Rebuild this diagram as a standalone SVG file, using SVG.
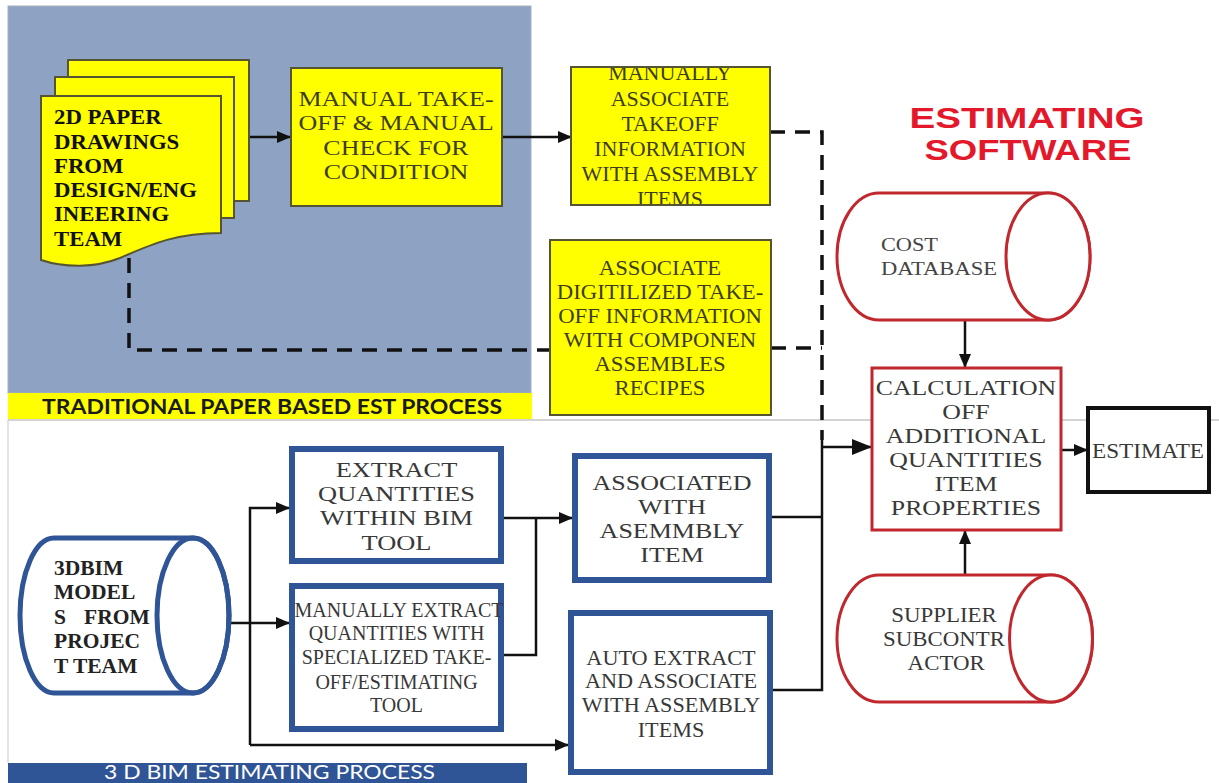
<svg xmlns="http://www.w3.org/2000/svg" width="1219" height="783" viewBox="0 0 1219 783">
<style>
.serif{font-family:"Liberation Serif","Times New Roman",serif}
.ylw{fill:#ffff00;stroke:#555533;stroke-width:2}
.ytxt{font-family:"Liberation Serif","Times New Roman",serif;fill:#3d3d1f;text-anchor:middle}
.bbox{fill:#ffffff;stroke:#2f5597;stroke-width:6}
.btxt{font-family:"Liberation Serif","Times New Roman",serif;fill:#383838;text-anchor:middle}
.con{fill:none;stroke:#111;stroke-width:2.5}
.dash{fill:none;stroke:#111;stroke-width:3.5;stroke-dasharray:15 10}
.red{fill:#fff;stroke:#c0282e;stroke-width:3}
</style>
<defs>
<marker id="ah" markerUnits="userSpaceOnUse" markerWidth="14" markerHeight="12" refX="13" refY="6" orient="auto">
<path d="M0,0 L14,6 L0,12 z" fill="#111"/>
</marker>
<marker id="ahb" markerUnits="userSpaceOnUse" markerWidth="20" markerHeight="16" refX="19" refY="8" orient="auto">
<path d="M0,0 L20,8 L0,16 z" fill="#111"/>
</marker>
<clipPath id="clipMA"><rect x="572" y="68" width="197" height="136"/></clipPath>
</defs>

<!-- panels -->
<g id="traditional-panel">
<rect x="8" y="6" width="523" height="387" fill="#8ea2c3" stroke="#a7b0bf" stroke-width="1"/>
<rect x="8" y="393" width="524" height="26" fill="#ffff00"/>
<text x="272" y="413.5" font-family="Lato,'Open Sans',sans-serif" font-weight="bold" font-size="21" fill="#1a1a1a" text-anchor="middle" textLength="460" lengthAdjust="spacingAndGlyphs">TRADITIONAL PAPER BASED EST PROCESS</text>
</g>
<g id="bim-panel">
<line x1="8" y1="420" x2="1219" y2="420" stroke="#a8a8a8" stroke-width="1.2"/>
<line x1="8" y1="420" x2="8" y2="763" stroke="#d0d0d0" stroke-width="1.2"/>
<rect x="8" y="763" width="519" height="20" fill="#2f5597"/>
<text x="104" y="779" font-family="Lato,'Open Sans',sans-serif" font-size="19" fill="#ffffff" textLength="331" lengthAdjust="spacingAndGlyphs">3 D BIM ESTIMATING PROCESS</text>
</g>

<g id="title">
<text x="1027" y="128" font-family="'Liberation Sans',Arial,sans-serif" font-weight="bold" font-size="29" fill="#e3182b" text-anchor="middle" textLength="235" lengthAdjust="spacingAndGlyphs">ESTIMATING</text>
<text x="1028" y="160" font-family="'Liberation Sans',Arial,sans-serif" font-weight="bold" font-size="29" fill="#e3182b" text-anchor="middle" textLength="207" lengthAdjust="spacingAndGlyphs">SOFTWARE</text>
</g>

<!-- connectors -->
<g id="connectors">
<path class="dash" d="M770,132 H822 V440"/>
<path class="dash" d="M771,348 H822"/>
<path class="dash" d="M129,258 V350 H549"/>
<path class="con" d="M249,137 H290" marker-end="url(#ah)"/>
<path class="con" d="M502,137 H571" marker-end="url(#ah)"/>
<path class="con" d="M965,320 V367" marker-end="url(#ah)"/>
<path class="con" d="M965,575 V531" marker-end="url(#ah)"/>
<path class="con" d="M1061,450 H1087" marker-end="url(#ah)"/>
<path class="con" d="M229,623 H289" marker-end="url(#ah)"/>
<path class="con" d="M250,745 V508 H289" marker-end="url(#ah)"/>
<path class="con" d="M250,745 H568" marker-end="url(#ah)"/>
<path class="con" d="M504,518 H572" marker-end="url(#ah)"/>
<path class="con" d="M504,655 H536 V518"/>
<path class="con" d="M772,517 H822"/>
<path class="con" d="M773,690 H822 V440"/>
<path class="con" d="M822,447 H871" stroke-width="3.5" marker-end="url(#ahb)"/>
</g>

<!-- nodes -->
<g id="paper-drawings">
<rect class="ylw" x="68" y="60" width="181" height="141" stroke="#5a5a22"/>
<rect class="ylw" x="55" y="77" width="179" height="141" stroke="#5a5a22"/>
<path class="ylw" stroke="#5a5a22" d="M41,96 H221 V233 C175,233 150,245 120,258 C95,268 65,268 41,260 Z"/>
<g class="serif" font-weight="bold" font-size="21.5" fill="#111" transform="translate(54,0) scale(1.06,1)">
<text x="0" y="124.5">2D PAPER</text>
<text x="0" y="149">DRAWINGS</text>
<text x="0" y="173">FROM</text>
<text x="0" y="197.5">DESIGN/ENG</text>
<text x="0" y="221.5">INEERING</text>
<text x="0" y="246">TEAM</text>
</g>
</g>

<g id="manual-takeoff">
<rect class="ylw" x="291" y="68" width="211" height="138"/>
<g class="ytxt" font-size="21.5" transform="translate(396,0) scale(1.21,1)">
<text x="0" y="106.5">MANUAL TAKE-</text>
<text x="0" y="130.5">OFF &amp; MANUAL</text>
<text x="0" y="155.5">CHECK FOR</text>
<text x="0" y="179.5">CONDITION</text>
</g>
</g>

<g id="manually-associate">
<rect class="ylw" x="571" y="67" width="199" height="138"/>
<g class="ytxt" font-size="22" clip-path="url(#clipMA)">
<text x="670" y="80">MANUALLY</text>
<text x="670" y="105.5">ASSOCIATE</text>
<text x="670" y="131">TAKEOFF</text>
<text x="670" y="156">INFORMATION</text>
<text x="670" y="181">WITH ASSEMBLY</text>
<text x="670" y="206">ITEMS</text>
</g>
</g>

<g id="associate-digitilized">
<rect class="ylw" x="550" y="240" width="221" height="175"/>
<g class="ytxt" font-size="21.5" transform="translate(660,0) scale(1.056,1)">
<text x="0" y="275">ASSOCIATE</text>
<text x="0" y="299">DIGITILIZED TAKE-</text>
<text x="0" y="323">OFF INFORMATION</text>
<text x="0" y="347">WITH COMPONEN</text>
<text x="0" y="371">ASSEMBLES</text>
<text x="0" y="395">RECIPES</text>
</g>
</g>

<g id="cost-database">
<path class="red" stroke="#b3262c" d="M879,193 H1048 A42,63.5 0 0 1 1048,320 H879 A42,63.5 0 0 1 879,193 Z"/>
<ellipse class="red" stroke="#b3262c" cx="1048" cy="256.5" rx="42" ry="63.5"/>
<g class="serif" font-size="19" fill="#444">
<text x="881" y="251" textLength="57" lengthAdjust="spacingAndGlyphs">COST</text>
<text x="881" y="275" textLength="116" lengthAdjust="spacingAndGlyphs">DATABASE</text>
</g>
</g>

<g id="calculation">
<rect class="red" x="872" y="368" width="189" height="162" stroke="#e0363a"/>
<g class="btxt" font-size="21.5" fill="#3b3b3b" transform="translate(966,0) scale(1.2,1)">
<text x="0" y="395.5">CALCULATION</text>
<text x="0" y="419.5">OFF</text>
<text x="0" y="443.5">ADDITIONAL</text>
<text x="0" y="467.5">QUANTITIES</text>
<text x="0" y="491.5">ITEM</text>
<text x="0" y="515.5">PROPERTIES</text>
</g>
</g>

<g id="estimate">
<rect x="1088" y="408" width="121" height="84" fill="#fff" stroke="#111" stroke-width="4"/>
<text class="btxt" x="1148" y="457.5" font-size="21" textLength="112" lengthAdjust="spacingAndGlyphs">ESTIMATE</text>
</g>

<g id="supplier">
<path class="red" stroke="#e0262c" d="M879,575 H1051 A41.5,63.5 0 0 1 1051,702 H879 A42,63.5 0 0 1 879,575 Z"/>
<ellipse class="red" stroke="#e0262c" cx="1051" cy="638.5" rx="41.5" ry="63.5"/>
<g class="btxt" font-size="21" fill="#444" transform="translate(944,0) scale(1.09,1)">
<text x="0" y="622">SUPPLIER</text>
<text x="0" y="646">SUBCONTR</text>
<text x="2" y="670">ACTOR</text>
</g>
</g>

<g id="bim-models">
<path fill="#fff" stroke="#2f5597" stroke-width="5" d="M54,538 H193 A36,77.5 0 0 1 193,693 H54 A34,77.5 0 0 1 54,538 Z"/>
<g class="serif" font-weight="bold" font-size="21.5" fill="#222">
<text x="54" y="574.5">3DBIM</text>
<text x="54" y="599">MODEL</text>
<text x="54" y="623.5">S</text>
<text x="84" y="623.5">FROM</text>
<text x="54" y="648">PROJEC</text>
<text x="54" y="672.5">T TEAM</text>
</g>
<ellipse fill="none" stroke="#2f5597" stroke-width="5" cx="193" cy="615.5" rx="36" ry="77.5"/>
</g>

<g id="extract-quantities">
<rect class="bbox" x="292" y="449" width="209" height="112"/>
<g class="btxt" font-size="22" transform="translate(396.5,0) scale(1.2,1)">
<text x="0" y="477">EXTRACT</text>
<text x="0" y="501">QUANTITIES</text>
<text x="0" y="525.5">WITHIN BIM</text>
<text x="0" y="550">TOOL</text>
</g>
</g>

<g id="manually-extract">
<rect class="bbox" x="292" y="586" width="209" height="143"/>
<g class="btxt" font-size="20">
<text x="399" y="617">MANUALLY EXTRACT</text>
<text x="396.5" y="640">QUANTITIES WITH</text>
<text x="396.5" y="664">SPECIALIZED TAKE-</text>
<text x="396.5" y="688.5">OFF/ESTIMATING</text>
<text x="396.5" y="712">TOOL</text>
</g>
</g>

<g id="associated-assembly">
<rect class="bbox" x="575" y="456" width="194" height="124"/>
<g class="btxt" font-size="21.5" transform="translate(672,0) scale(1.21,1)">
<text x="0" y="490">ASSOCIATED</text>
<text x="0" y="514">WITH</text>
<text x="0" y="538">ASEMMBLY</text>
<text x="0" y="562">ITEM</text>
</g>
</g>

<g id="auto-extract">
<rect class="bbox" x="571" y="613" width="199" height="159"/>
<g class="btxt" font-size="21.5" transform="translate(671,0) scale(1.034,1)">
<text x="0" y="665">AUTO EXTRACT</text>
<text x="0" y="688.5">AND ASSOCIATE</text>
<text x="0" y="712.5">WITH ASSEMBLY</text>
<text x="0" y="737">ITEMS</text>
</g>
</g>
</svg>
